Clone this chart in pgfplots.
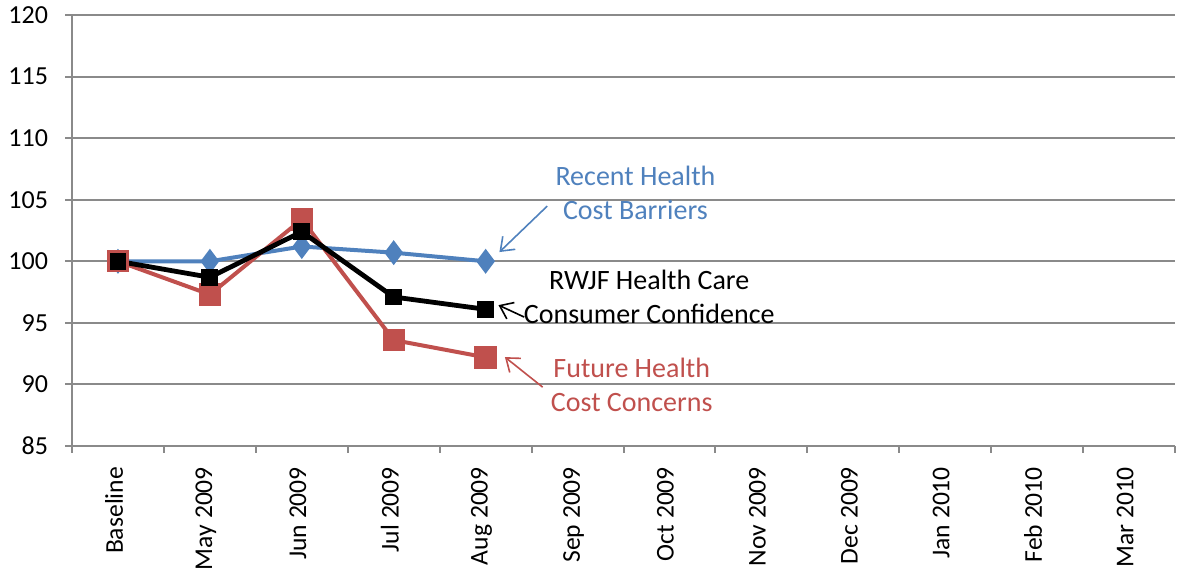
\documentclass[border=0pt]{standalone}
\usepackage{fontspec}
\setmainfont{Carlito}
\usepackage{pgfplots}
\pgfplotsset{compat=1.18}
\usetikzlibrary{arrows.meta}
\definecolor{cblue}{HTML}{4F81BD}
\definecolor{cred}{HTML}{C0504D}
\definecolor{cgrid}{HTML}{8A8A8A}
\begin{document}
\begin{tikzpicture}
\useasboundingbox (-36pt,-63pt) rectangle (553pt,223pt);
\begin{axis}[
  scale only axis,
  width=551.5pt, height=215.5pt,
  xmin=-0.5, xmax=11.5,
  ymin=85, ymax=120,
  ytick={85,90,...,120},
  xtick={0,...,11},
  xticklabels={Baseline,May 2009,Jun 2009,Jul 2009,Aug 2009,Sep 2009,Oct 2009,Nov 2009,Dec 2009,Jan 2010,Feb 2010,Mar 2010},
  minor xtick={-0.5,0.5,...,11.5},
  major x tick style={draw=none},
  tick align=outside,
  major tick length=3.5pt, minor tick length=3.5pt,
  axis lines*=left,
  axis line style={cgrid, line width=1pt},
  every tick/.style={cgrid, line width=1pt},
  ymajorgrids,
  major grid style={cgrid, line width=1pt},
  x tick label style={rotate=90, anchor=east, font=\fontsize{12.8}{15}\selectfont, xshift=-3.5pt, yshift=2pt},
  y tick label style={font=\fontsize{13}{15}\selectfont, xshift=-5pt},
  /pgf/number format/assume math mode=true,
  clip=false,
]
\addplot[cblue, line width=2pt, mark=diamond*, mark size=4.6pt, mark options={solid}] coordinates {(0,100) (1,100) (2,101.2) (3,100.7) (4,100)};
\addplot[cred, line width=2pt, mark=square*, mark size=4.6pt] coordinates {(0,100) (1,97.3) (2,103.4) (3,93.6) (4,92.2)};
\addplot[black, line width=2.4pt, mark=square*, mark size=3pt] coordinates {(0,100) (1,98.7) (2,102.4) (3,97.1) (4,96.1)};
\node[cblue, align=center, font=\fontsize{14}{17}\selectfont] at (axis cs:5.63,105.54) {Recent Health\\Cost Barriers};
\node[black, align=center, font=\fontsize{14}{17}\selectfont] at (axis cs:5.78,97.13) {RWJF Health Care\\Consumer Confidence};
\node[cred, align=center, font=\fontsize{14}{17}\selectfont] at (axis cs:5.59,89.94) {Future Health\\Cost Concerns};
\draw[cblue, line width=0.8pt, -{Straight Barb[length=6pt,width=9pt]}] (axis cs:4.67,104.48) -- (axis cs:4.15,100.75);
\draw[black, line width=0.8pt, -{Straight Barb[length=6pt,width=9pt]}] (axis cs:4.42,95.47) -- (axis cs:4.14,96.44);
\draw[cred, line width=0.8pt, -{Straight Barb[length=6pt,width=9pt]}] (axis cs:4.62,89.78) -- (axis cs:4.21,92.22);
\end{axis}
\end{tikzpicture}
\end{document}
